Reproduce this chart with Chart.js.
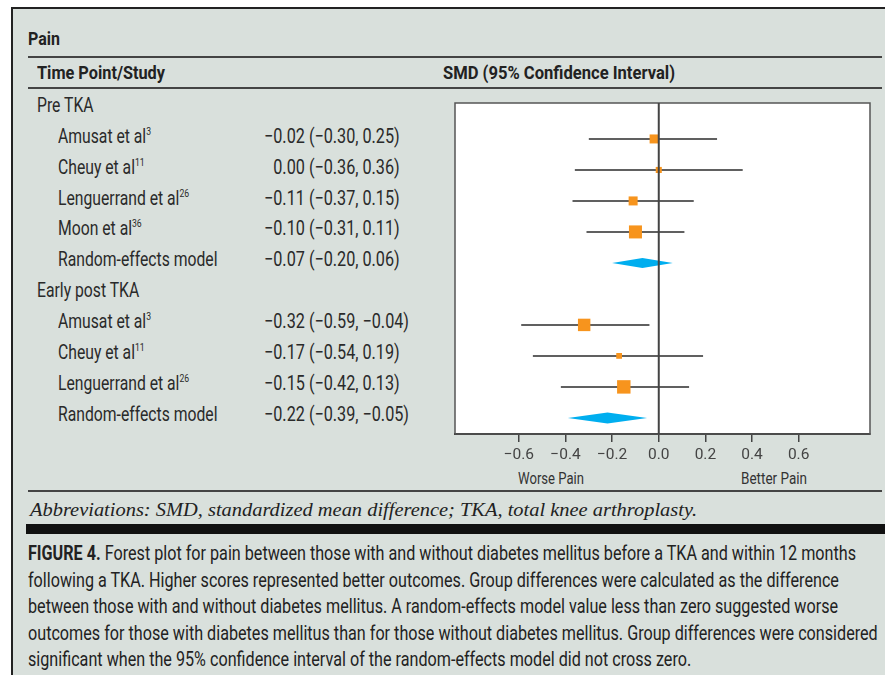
<!DOCTYPE html>
<html>
<head>
<meta charset="utf-8">
<script src="https://cdn.jsdelivr.net/npm/chart.js@4.4.1/dist/chart.umd.min.js"></script>
<style>
  html, body { margin:0; padding:0; background:#fff; width:885px; height:675px; overflow:hidden; }
  body { position:relative; font-family:"Roboto","Liberation Sans",sans-serif; color:#222; }
  #panel { position:absolute; left:11px; top:7px; width:874px; height:668px; background:#d9e0dc; border-top:2px solid #222; border-left:2px solid #222; box-sizing:border-box; }
  .abs { position:absolute; white-space:nowrap; }
  .rule { position:absolute; left:28px; width:854px; height:2px; background:#444; }
  .b { font-weight:bold; }
  .row { position:absolute; height:30px; line-height:30px; font-size:20px; white-space:nowrap; color:#2a2a2a; }
  .fit { display:inline-block; transform-origin:left center; white-space:nowrap; }
  sup { font-size:11px; vertical-align:0; position:relative; top:-8px; }
  #chart { position:absolute; left:0; top:0; z-index:2; }
  .axlab { position:absolute; top:468px; font-size:16.5px; color:#333; white-space:nowrap; line-height:22px; }
  #abbr { position:absolute; left:30px; top:498px; font-family:"Liberation Serif","DejaVu Serif",serif; font-style:italic; font-size:18px; color:#222; line-height:24px; }
  #bar { position:absolute; left:26px; top:524px; width:859px; height:10px; background:#111; }
  .cap { position:absolute; left:28px; font-size:20px; line-height:26px; white-space:nowrap; color:#222; }
  .hid { visibility:hidden; }
</style>
</head>
<body>
<div id="panel"></div>
<div class="abs b" style="left:28px; top:27px; font-size:19px;"><span class="fit" id="hPain">Pain</span></div>
<div class="rule" style="top:56px;"></div>
<div class="abs b" style="left:37px; top:61px; font-size:19px;"><span class="fit" id="hTime">Time Point/Study</span></div>
<div class="abs b" style="left:443px; top:61px; font-size:19px;"><span class="fit" id="hSMD">SMD (95% Confidence Interval)</span></div>
<div class="rule" style="top:87px;"></div>
<div id="rows"></div>
<div class="axlab" id="worse"><span class="fit">Worse Pain</span></div>
<div class="axlab" id="better"><span class="fit">Better Pain</span></div>
<div class="rule" style="top:490px;"></div>
<div id="abbr"><span class="fit" id="abbrT">Abbreviations: SMD, standardized mean difference; TKA, total knee arthroplasty.</span></div>
<div id="bar"></div>
<div class="cap" style="top:540px;"><span class="fit capl"><span class="b">FIGURE 4.</span> Forest plot for pain between those with and without diabetes mellitus before a TKA and within 12 months</span></div>
<div class="cap" style="top:566.5px;"><span class="fit capl">following a TKA. Higher scores represented better outcomes. Group differences were calculated as the difference</span></div>
<div class="cap" style="top:593px;"><span class="fit capl">between those with and without diabetes mellitus. A random-effects model value less than zero suggested worse</span></div>
<div class="cap" style="top:619.5px;"><span class="fit capl">outcomes for those with diabetes mellitus than for those without diabetes mellitus. Group differences were considered</span></div>
<div class="cap" style="top:646px;"><span class="fit capl">significant when the 95% confidence interval of the random-effects model did not cross zero.</span></div>
<canvas id="chart" width="885" height="675"></canvas>
<script>
// ---- data ----
const groups = ["Pre TKA", "Early post TKA"];
const preStudies = ["Amusat et al", "Cheuy et al", "Lenguerrand et al", "Moon et al"];
const preRefs = ["3", "11", "26", "36"];
const preSMD = [-0.02, 0.00, -0.11, -0.10];
const preLow = [-0.30, -0.36, -0.37, -0.31];
const preHigh = [0.25, 0.36, 0.15, 0.11];
const preWeight = [22, 10, 22, 46];
const preModel = [-0.07, -0.20, 0.06];      // estimate, low, high
const postStudies = ["Amusat et al", "Cheuy et al", "Lenguerrand et al"];
const postRefs = ["3", "11", "26"];
const postSMD = [-0.32, -0.17, -0.15];
const postLow = [-0.59, -0.54, -0.42];
const postHigh = [-0.04, 0.19, 0.13];
const postWeight = [42, 9, 49];
const postModel = [-0.22, -0.39, -0.05];
const modelLabel = "Random-effects model";
const xTicks = [-0.6, -0.4, -0.2, 0.0, 0.2, 0.4, 0.6];

// ---- build rows (row index = position in table) ----
const fmt = v => (v < 0 ? "\u2212" : "") + Math.abs(v).toFixed(2);
const rows = [];
rows.push({type:"group", label:groups[0]});
preStudies.forEach((s,i)=>rows.push({type:"study", label:s, ref:preRefs[i], est:preSMD[i], lo:preLow[i], hi:preHigh[i], w:preWeight[i]}));
rows.push({type:"model", label:modelLabel, est:preModel[0], lo:preModel[1], hi:preModel[2]});
rows.push({type:"group", label:groups[1]});
postStudies.forEach((s,i)=>rows.push({type:"study", label:s, ref:postRefs[i], est:postSMD[i], lo:postLow[i], hi:postHigh[i], w:postWeight[i]}));
rows.push({type:"model", label:modelLabel, est:postModel[0], lo:postModel[1], hi:postModel[2]});

const rowsDiv = document.getElementById("rows");
rows.forEach((r,i)=>{
  const top = 90 + i*30.85;
  const d = document.createElement("div");
  d.className = "row";
  d.style.top = top + "px";
  d.style.left = (r.type === "group" ? 37 : 58) + "px";
  d.innerHTML = "<span class='fit lab'" + (i===5 ? " id='refLab'" : "") + ">" + r.label + (r.ref ? "<sup>" + r.ref + "</sup>" : "") + "</span>";
  rowsDiv.appendChild(d);
  if (r.type !== "group") {
    const v = document.createElement("div");
    v.className = "row";
    v.style.top = top + "px";
    v.style.left = "264px";
    v.innerHTML = "<span class='fit val'" + (i===7 ? " id='refVal'" : "") + ">" + (r.est < 0 ? "" : "<span class='hid'>\u2212</span>") + fmt(r.est) + " (" + fmt(r.lo) + ", " + fmt(r.hi) + ")</span>";
    rowsDiv.appendChild(v);
  }
});

// ---- condense text horizontally to match the reference's condensed face ----
function factorFor(el, target){ return target / el.getBoundingClientRect().width; }
function applyF(els, f){ els.forEach(e=>{ e.style.transform = "scaleX(" + f + ")"; }); }
applyF([document.getElementById("hPain")], factorFor(document.getElementById("hPain"), 32));
applyF([document.getElementById("hTime")], factorFor(document.getElementById("hTime"), 128));
applyF([document.getElementById("hSMD")], factorFor(document.getElementById("hSMD"), 232));
const fLab = factorFor(document.getElementById("refLab"), 159.5);
applyF(document.querySelectorAll(".lab"), fLab);
const fVal = factorFor(document.getElementById("refVal"), 145);
applyF(document.querySelectorAll(".val"), fVal);
const capEls = document.querySelectorAll(".capl");
const fCap = factorFor(capEls[0], 828);
applyF(capEls, fCap);
const abbrT = document.getElementById("abbrT");
applyF([abbrT], factorFor(abbrT, 667));
[["worse",551],["better",773.5]].forEach(([id,cx])=>{
  const box = document.getElementById(id), sp = box.firstElementChild;
  const f = factorFor(sp, 66);
  sp.style.transform = "scaleX(" + f + ")";
  box.style.left = (cx - 33) + "px";
});

// ---- chart datasets ----
const datasets = [];
rows.forEach((r,i)=>{
  if (r.type === "study") {
    datasets.push({ data:[{x:r.lo,y:i},{x:r.hi,y:i}], showLine:true, borderColor:"#2b2b2b", borderWidth:1.5, pointRadius:0, order:2 });
  }
});
const studyRows = rows.map((r,i)=>({r,i})).filter(o=>o.r.type==="study");
const sq = studyRows.map(o=>1.92*Math.sqrt(o.r.w)/(2*Math.SQRT1_2));
datasets.push({
  data: studyRows.map(o=>({x:o.r.est, y:o.i})),
  pointStyle:"rect", pointRadius: sq, pointHoverRadius: sq,
  backgroundColor:"#f7941d", borderWidth:0, order:1
});
const modelRows = rows.map((r,i)=>({r,i})).filter(o=>o.r.type==="model");

const frameAndDiamonds = {
  id:"frame",
  beforeDraw(chart){
    const a = chart.chartArea, c = chart.ctx;
    c.save(); c.fillStyle = "#fff"; c.fillRect(a.left, a.top, a.right-a.left, a.bottom-a.top); c.restore();
  },
  beforeDatasetsDraw(chart){
    const a = chart.chartArea, c = chart.ctx;
    c.save(); c.strokeStyle = "#555"; c.lineWidth = 1.5;
    c.strokeRect(a.left, a.top, a.right-a.left, a.bottom-a.top); c.restore();
  },
  afterDatasetsDraw(chart){
    const c = chart.ctx, xs = chart.scales.x, ys = chart.scales.y;
    c.save(); c.fillStyle = "#00aeef";
    modelRows.forEach((o,k)=>{
      const y = ys.getPixelForValue(o.i), h = k === 0 ? 5 : 5.5;
      c.beginPath();
      c.moveTo(xs.getPixelForValue(o.r.lo), y);
      c.lineTo(xs.getPixelForValue(o.r.est), y - h);
      c.lineTo(xs.getPixelForValue(o.r.hi), y);
      c.lineTo(xs.getPixelForValue(o.r.est), y + h);
      c.closePath(); c.fill();
    });
    const x0 = xs.getPixelForValue(0);
    c.strokeStyle = "#444"; c.lineWidth = 2;
    c.beginPath(); c.moveTo(x0, chart.chartArea.top); c.lineTo(x0, chart.chartArea.bottom); c.stroke();
    c.restore();
  }
};

new Chart(document.getElementById("chart"), {
  type:"scatter",
  data:{ datasets },
  options:{
    responsive:false, animation:false, devicePixelRatio:1,
    layout:{ padding:{ left:455, top:103, right:15, bottom:201 } },
    plugins:{ legend:{display:false}, tooltip:{enabled:false} },
    scales:{
      x:{
        type:"linear", min:-0.874, max:0.906,
        afterBuildTicks: s => { s.ticks = xTicks.map(v=>({value:v})); },
        afterFit: s => { s.height = 40; },
        grid:{ drawOnChartArea:false, color:"#444", tickColor:"#444", tickLength:8, lineWidth:1.5 },
        border:{ display:true, color:"#333", width:2 },
        ticks:{ padding:4, color:"#444", font:{ family:"Roboto, Liberation Sans, sans-serif", size:15.5 },
          callback: v => (v < -1e-9 ? "\u2212" : "") + Math.abs(v).toFixed(1) }
      },
      y:{ type:"linear", display:false, reverse:true, min:-0.16, max:10.52 }
    }
  },
  plugins:[frameAndDiamonds]
});
</script>
</body>
</html>
